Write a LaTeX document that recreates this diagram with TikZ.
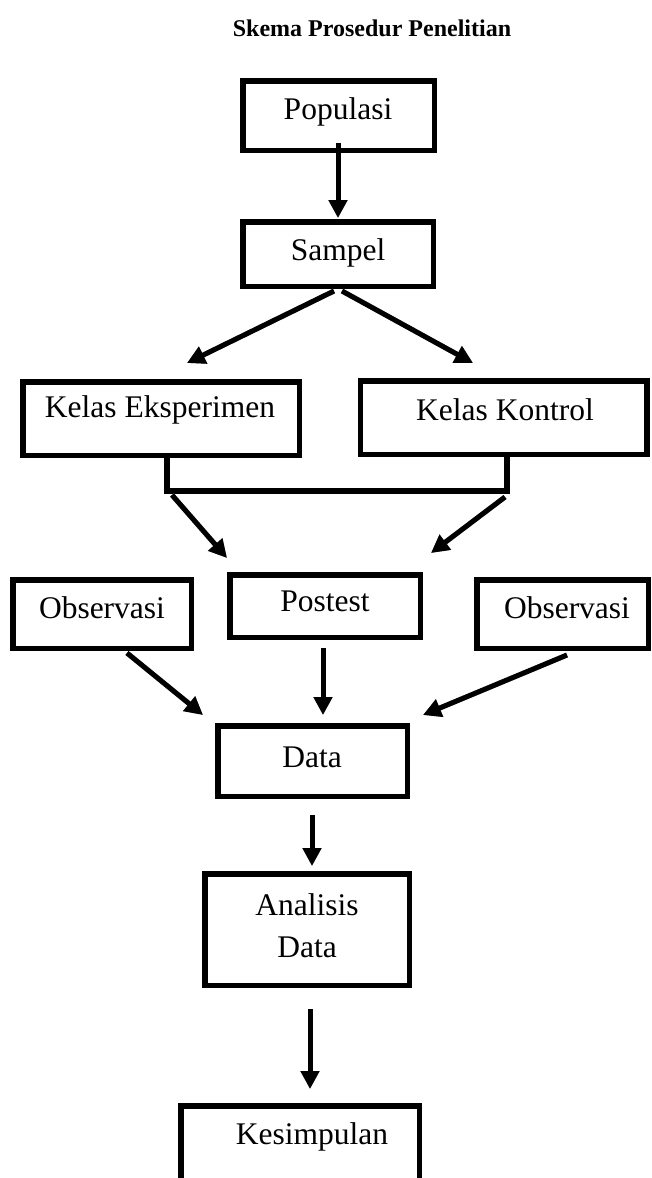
\documentclass[tikz,border=0pt]{standalone}
\usepackage{fontspec}
\setmainfont{Liberation Serif}
\usetikzlibrary{arrows.meta}
\tikzset{
  box/.style={draw=black, line width=5.5pt, inner sep=0pt, outer sep=0pt, fill=none},
  lbl/.style={font=\fontsize{31.5}{36}\selectfont, inner sep=0pt, anchor=center},
  arr/.style={line width=5pt, draw=black, -{Triangle[length=18pt,width=18pt]}},
  sharr/.style={line width=5pt, draw=black!40, xshift=2.5pt, yshift=-2.5pt, -{Triangle[length=18pt,width=18pt]}},
  link/.style={line width=5.5pt, draw=black},
  shlink/.style={line width=5.5pt, draw=black!40, xshift=2.5pt, yshift=-2.5pt}
}
\newcommand\sarrow[2]{\draw[sharr] (#1) -- (#2); \draw[arr] (#1) -- (#2);}
\begin{document}
\begin{tikzpicture}[x=1pt,y=-1pt]
\useasboundingbox (0,0) rectangle (652,1178);
\clip (0,0) rectangle (652,1178);
% title
\node[font=\fontsize{24}{28}\selectfont\bfseries, inner sep=0pt] (title) at (372,28) {Skema Prosedur Penelitian};
% boxes
\node[box, minimum width=191.5pt, minimum height=69.5pt] (pop) at (338.5,115.5) {};
\node[lbl] (popt) at (338,112) {Populasi};
\node[box, minimum width=190.5pt, minimum height=64.5pt] (samp) at (338,254) {};
\node[lbl] (sampt) at (338,253) {Sampel};
\node[box, minimum width=276.5pt, minimum height=73.5pt] (ke) at (161,418.5) {};
\node[lbl] (ket) at (160,410) {Kelas Eksperimen};
\node[box, minimum width=286.5pt, minimum height=73.5pt] (kk) at (503.5,417.5) {};
\node[lbl] (kkt) at (505,410) {Kelas Kontrol};
\node[box, minimum width=178.5pt, minimum height=68.5pt] (obsl) at (102,614) {};
\node[lbl] (obslt) at (102,608) {Observasi};
\node[box, minimum width=190.5pt, minimum height=62.5pt] (post) at (325,606) {};
\node[lbl] (postt) at (325,601) {Postest};
\node[box, minimum width=171.5pt, minimum height=68.5pt] (obsr) at (562.5,614) {};
\node[lbl] (obsrt) at (567,608) {Observasi};
\node[box, minimum width=189.5pt, minimum height=70.5pt] (data) at (312.5,761) {};
\node[lbl] (datat) at (312,757) {Data};
\node[box, minimum width=204.5pt, minimum height=111.5pt] (anal) at (307,929.5) {};
\node[lbl, align=center, font=\fontsize{31.5}{42}\selectfont] (analt) at (307,926) {Analisis\\Data};
\node[box, minimum width=238.5pt, minimum height=100pt] (kes) at (300,1156) {};
\node[lbl] (kest) at (312,1137) {Kesimpulan};
% connector coordinates
\coordinate (p1) at (338,143);
\coordinate (s1) at (338,218);
\coordinate (sa) at (334,291);
\coordinate (sb) at (342,291);
\coordinate (kea) at (187,363);
\coordinate (kka) at (473,363);
\coordinate (b1) at (167,456);
\coordinate (b2) at (167,491);
\coordinate (b3) at (507,491);
\coordinate (b4) at (507,456);
\coordinate (bl) at (172,495);
\coordinate (br) at (505,497);
\coordinate (pl) at (227,558);
\coordinate (pr) at (431,553);
\coordinate (ol) at (127,653);
\coordinate (ps) at (323,648);
\coordinate (or) at (567,655);
\coordinate (dl) at (203,715);
\coordinate (dm) at (323,715);
\coordinate (dr) at (423,715);
\coordinate (d1) at (312,815);
\coordinate (a1) at (312,866);
\coordinate (a2) at (310,1009);
\coordinate (k1) at (310,1089);
% arrows
\sarrow{p1}{s1}
\sarrow{sa}{kea}
\sarrow{sb}{kka}
\draw[shlink] (b2) -- (b3);
\draw[link] (b1) -- (b2) -- (b3) -- (b4);
\sarrow{bl}{pl}
\sarrow{br}{pr}
\sarrow{ol}{dl}
\sarrow{ps}{dm}
\sarrow{or}{dr}
\sarrow{d1}{a1}
\sarrow{a2}{k1}
\end{tikzpicture}
\end{document}
